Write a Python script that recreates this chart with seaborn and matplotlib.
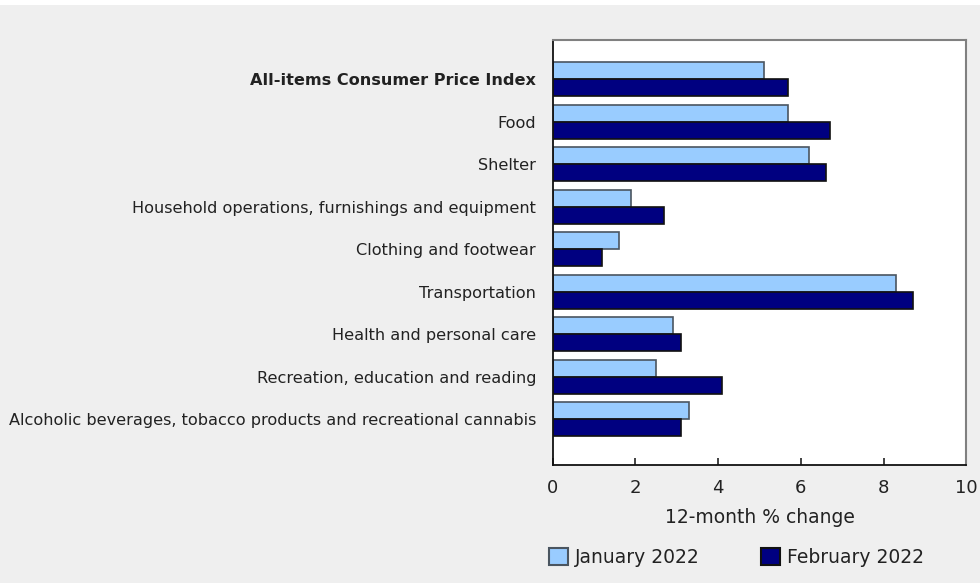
import pandas as pd
import seaborn as sns
import matplotlib
matplotlib.use("Agg")
import matplotlib.pyplot as plt
from matplotlib.patches import Patch

categories = [
    "All-items Consumer Price Index",
    "Food",
    "Shelter",
    "Household operations, furnishings and equipment",
    "Clothing and footwear",
    "Transportation",
    "Health and personal care",
    "Recreation, education and reading",
    "Alcoholic beverages, tobacco products and recreational cannabis",
]
jan_2022 = [5.1, 5.7, 6.2, 1.9, 1.6, 8.3, 2.9, 2.5, 3.3]
feb_2022 = [5.7, 6.7, 6.6, 2.7, 1.2, 8.7, 3.1, 4.1, 3.1]
series = ["January 2022", "February 2022"]
colors = ["#99ccff", "#000080"]
edges = ["#4a5560", "#111111"]

df = pd.DataFrame({
    "categorie": categories * 2,
    "valeur": jan_2022 + feb_2022,
    "serie": [series[0]] * len(categories) + [series[1]] * len(categories),
})

sns.set_theme(style="white")
plt.rcParams['font.family'] = ['DejaVu Sans']

fig = plt.figure(figsize=(9.8, 5.87), dpi=100)
fig.patch.set_facecolor("#efefef")
ax = fig.add_axes([0.564, 0.208, 0.422, 0.724])
ax.set_facecolor("white")

sns.barplot(data=df, y="categorie", x="valeur", hue="serie", orient="h",
            palette=colors, width=0.8, ax=ax, legend=False, saturation=1)

# bordures des barres
for cont, ec in zip(ax.containers, edges):
    for bar in cont:
        bar.set_edgecolor(ec)
        bar.set_linewidth(1.2)

ax.set_xlim(0, 10)
ax.set_ylim(9.08, -0.92)
ax.set_xticks([0, 2, 4, 6, 8, 10])
ax.tick_params(axis="x", direction="in", length=5, width=1.2, color="#222222",
               labelsize=13, labelcolor="#222222", pad=10, bottom=True)
ax.tick_params(axis="y", length=0, labelsize=11.6, labelcolor="#222222", pad=12)
ax.set_ylabel("")
ax.set_xlabel("12-month % change", fontsize=13.5, color="#222222", labelpad=8)

for lab in ax.get_yticklabels():
    if lab.get_text().startswith("All-items"):
        lab.set_fontweight("bold")

for s in ["left", "bottom"]:
    ax.spines[s].set_color("#111111")
    ax.spines[s].set_linewidth(1.3)
for s in ["top", "right"]:
    ax.spines[s].set_color("#808080")
    ax.spines[s].set_linewidth(1.5)

handles = [Patch(facecolor=c, edgecolor=e, linewidth=1.5) for c, e in zip(colors, edges)]
fig.legend(handles, series, loc="lower left", bbox_to_anchor=(0.553, 0.022), ncol=2,
           frameon=False, fontsize=13.5, handlelength=1.0, handleheight=1.0,
           handletextpad=0.35, columnspacing=3.3, labelcolor="#222222",
           borderaxespad=0.0)

# bandes blanches haut/bas
fig.patches.append(plt.Rectangle((0, 0.992), 1, 0.008, transform=fig.transFigure,
                                 facecolor="white", edgecolor="none", zorder=-1))
fig.patches.append(plt.Rectangle((0, 0), 1, 0.006, transform=fig.transFigure,
                                 facecolor="white", edgecolor="none", zorder=-1))

fig.savefig("out.png", dpi=100, facecolor=fig.get_facecolor())
